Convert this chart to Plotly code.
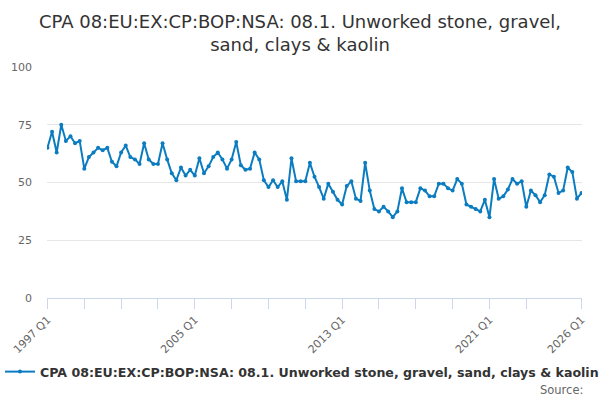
import plotly.graph_objects as go

# quarterly series, 1997 Q1 .. 2026 Q1
start_year = 1997
values = [65, 72, 63, 75, 68, 70, 67, 68, 56, 61, 63, 65, 64, 65, 59, 57,
          63, 66, 61, 60, 58, 67, 60, 58, 58, 67, 60, 54, 51, 56.5, 53, 55.5,
          53, 60.5, 54, 57, 61, 63, 60, 56, 60, 67.5, 57.5, 55.5, 56, 63,
          60, 51, 48, 51, 48, 50.5, 42.5, 60.5, 50.5, 50.5, 50.5, 58.5, 52.5, 48,
          43, 49.5, 46, 42.5, 40.5, 48.5, 50.5, 43, 42, 58.5, 46.5, 38.5,
          37.5, 39.5, 37.5, 35, 37.5, 47.5, 41.5, 41.5, 41.5, 47.5, 46.5, 44,
          44, 49.5, 49.5, 47.5, 46.5, 51.5, 49.5, 40.5, 39.5, 38.5, 37.5, 42.5,
          35, 51.5, 43, 44, 47, 51.5, 49.5, 50.5, 39.5, 46.5, 44.5, 41.5,
          44.5, 53.5, 52.5, 45.5, 46.5, 56.5, 54.5, 43, 45.5]
quarters = ["%d Q%d" % (start_year + i // 4, i % 4 + 1) for i in range(len(values))]

series_name = "CPA 08:EU:EX:CP:BOP:NSA: 08.1. Unworked stone, gravel, sand, clays & kaolin"
title_text = "CPA 08:EU:EX:CP:BOP:NSA: 08.1. Unworked stone, gravel,<br>sand, clays & kaolin"
labelled = ["1997 Q1", "2005 Q1", "2013 Q1", "2021 Q1", "2026 Q1"]
y_ticks = [0, 25, 50, 75, 100]

# tick marks every two years, plus the last quarter
tick_vals = quarters[0:105:8] + [quarters[-1]]
tick_text = [q if q in labelled else "" for q in tick_vals]

fig = go.Figure()
fig.add_trace(go.Scatter(x=quarters, y=values, name=series_name,
                         mode="lines+markers",
                         line=dict(color="#0b7cc0", width=2),
                         marker=dict(color="#0b7cc0", size=4)))

fig.update_layout(
    width=600, height=400,
    margin=dict(l=47, r=18, t=67, b=102),
    paper_bgcolor="white", plot_bgcolor="white",
    font=dict(family="DejaVu Sans", color="#333333"),
    title=dict(text=title_text, x=0.5, xanchor="center", y=0.93, yanchor="top",
               font=dict(size=18, color="#333333")),
    showlegend=True,
    legend=dict(orientation="h", x=0.49, xanchor="center", y=-0.32, yanchor="middle",
                font=dict(size=12.6, color="#333333", weight="bold"),
                itemwidth=30),
    xaxis=dict(type="category", tickmode="array", tickvals=tick_vals, ticktext=tick_text,
               tickangle=-45, tickfont=dict(size=11, color="#666666"),
               showgrid=False, showline=True, linecolor="#ccd6eb", linewidth=1,
               ticks="outside", ticklen=10, tickcolor="#ccd6eb",
               range=[-0.1, len(values) - 0.9], zeroline=False),
    yaxis=dict(range=[0, 100], tickvals=y_ticks, tickfont=dict(size=11, color="#666666"),
               gridcolor="#e6e6e6", zeroline=False, showline=False, ticks="",
               ticklabelstandoff=14),
)

fig.add_annotation(text="Source:", xref="paper", yref="paper", x=1.005, y=-0.4,
                   xanchor="right", yanchor="middle", showarrow=False,
                   font=dict(size=11.5, color="#666666"))

# drop the page's default body margin so the 600x400 figure fills the window
fig.write_html("out.html", config={"displayModeBar": False},
               post_script="document.body.style.margin='0px';")
